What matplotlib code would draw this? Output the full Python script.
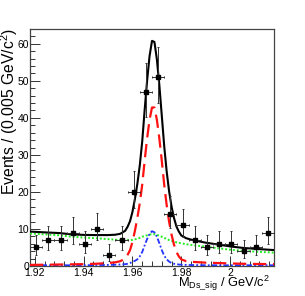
import numpy as np
import matplotlib
matplotlib.use('Agg')
import matplotlib.pyplot as plt
from matplotlib.ticker import MultipleLocator

plt.rcParams['font.family'] = ['Liberation Sans', 'DejaVu Sans']
plt.rcParams['mathtext.fontset'] = 'custom'
plt.rcParams['mathtext.rm'] = 'Liberation Sans'
plt.rcParams['mathtext.it'] = 'Liberation Sans:italic'

# binned data, 0.005 GeV/c2 bins
bin_centers = [1.9205, 1.9255, 1.9305, 1.9355, 1.9405, 1.9455, 1.9505, 1.9555,
               1.9605, 1.9655, 1.9705, 1.9755, 1.9805, 1.9855, 1.9905, 1.9955,
               2.0005, 2.0055, 2.0105, 2.0155]
counts = [5, 7, 7, 9, 6, 10, 3, 7, 20, 47, 51, 14, 11, 7, 5, 6, 6, 4, 5, 9]

# fit components
curve_x = [1.918, 1.925, 1.930, 1.935, 1.940, 1.945, 1.950, 1.953, 1.955, 1.957,
           1.958, 1.959, 1.960, 1.961, 1.962, 1.963, 1.964, 1.965, 1.966, 1.967,
           1.968, 1.969, 1.970, 1.971, 1.972, 1.973, 1.974, 1.975, 1.976, 1.977,
           1.978, 1.979, 1.980, 1.982, 1.985, 1.990, 1.995, 2.000, 2.005, 2.010,
           2.018]
signal = [0.3, 0.35, 0.4, 0.45, 0.5, 0.6, 0.8, 1.0, 1.3, 2.0,
          3.0, 4.3, 6.5, 9.5, 13.0, 17.0, 22.0, 28.5, 34.5, 39.5,
          42.8, 42.8, 39.5, 34.5, 28.5, 22.0, 16.5, 12.0, 8.5, 5.8,
          3.8, 2.6, 1.8, 1.3, 1.1, 0.9, 0.8, 0.7, 0.6, 0.55,
          0.5]
peaking = [0.2, 0.2, 0.2, 0.2, 0.2, 0.25, 0.3, 0.35, 0.4, 0.5,
           0.6, 0.8, 1.1, 1.4, 1.8, 2.6, 3.8, 5.6, 7.3, 8.7,
           9.4, 9.1, 7.9, 6.2, 4.3, 2.8, 1.8, 1.2, 0.8, 0.6,
           0.5, 0.4, 0.35, 0.3, 0.25, 0.2, 0.2, 0.2, 0.2, 0.2,
           0.2]
background = [8.8, 8.5, 8.3, 7.9, 7.7, 7.5, 7.25, 7.1, 7.0, 7.0,
              7.0, 7.0, 7.05, 7.2, 7.4, 7.6, 7.9, 8.1, 8.3, 8.5,
              8.6, 8.6, 8.4, 8.2, 7.9, 7.6, 7.3, 7.0, 6.8, 6.6,
              6.4, 6.3, 6.1, 5.9, 5.6, 5.2, 4.8, 4.4, 4.1, 3.9,
              3.6]

n = np.array(counts, dtype=float)
total = np.array(signal) + np.array(peaking) + np.array(background)

# asymmetric poisson errors (Wilson-Hilferty)
lo = n * (1 - 1 / (9 * n) - 1 / (3 * np.sqrt(n))) ** 3
hi = (n + 1) * (1 - 1 / (9 * (n + 1)) + 1 / (3 * np.sqrt(n + 1))) ** 3
yerr = [n - lo, hi - n]

fig = plt.figure(figsize=(3.05, 2.96), dpi=100)
ax = fig.add_axes([30 / 305, 30 / 296, 244 / 305, 237 / 296])

ax.errorbar(bin_centers, counts, xerr=0.0025, yerr=yerr, fmt='s', ms=2.2,
            color='black', ecolor='#333333', elinewidth=0.7, capsize=0.8,
            capthick=0.7, zorder=5)
ax.plot(curve_x, background, color='#22ee22', lw=1.4, ls=(0, (1, 1)), zorder=3)
ax.plot(curve_x, peaking, color='#2233ff', lw=1.3, ls=(0, (3, 1.2, 1, 1.2)), zorder=3)
ax.plot(curve_x, signal, color='#ff1111', lw=1.6, ls=(0, (6, 3)), zorder=3)
ax.plot(curve_x, total, color='black', lw=1.5, zorder=4)

ax.set_xlim(1.918, 2.018)
ax.set_ylim(0, 64)
ax.xaxis.set_major_locator(MultipleLocator(0.02))
ax.xaxis.set_minor_locator(MultipleLocator(0.004))
ax.yaxis.set_major_locator(MultipleLocator(10))
ax.yaxis.set_minor_locator(MultipleLocator(2))
ax.set_xticks([1.92, 1.94, 1.96, 1.98, 2.0])
ax.set_xticklabels(['1.92', '1.94', '1.96', '1.98', '2'])
ax.tick_params(which='both', direction='in', top=False, right=False,
               labelsize=7.5, width=0.7, color='#333333')
ax.tick_params(axis='x', pad=1.5)
ax.tick_params(axis='y', pad=0.6)
ax.tick_params(which='major', length=7)
ax.tick_params(which='minor', length=3.5)
for s in ax.spines.values():
    s.set_color('#444444')
    s.set_linewidth(0.9)

fig.text(9.5 / 305, (296 - 28) / 296, 'Events / (0.005 GeV/c$^{2}$)',
         rotation=90, ha='center', va='top', fontsize=11.3)
fig.text(270 / 305, (296 - 287) / 296,
         r'M$_{\mathrm{Ds\_sig}}$ / GeV/c$^{2}$', ha='right', va='baseline',
         fontsize=9.3)

fig.savefig('out.png', dpi=100)
